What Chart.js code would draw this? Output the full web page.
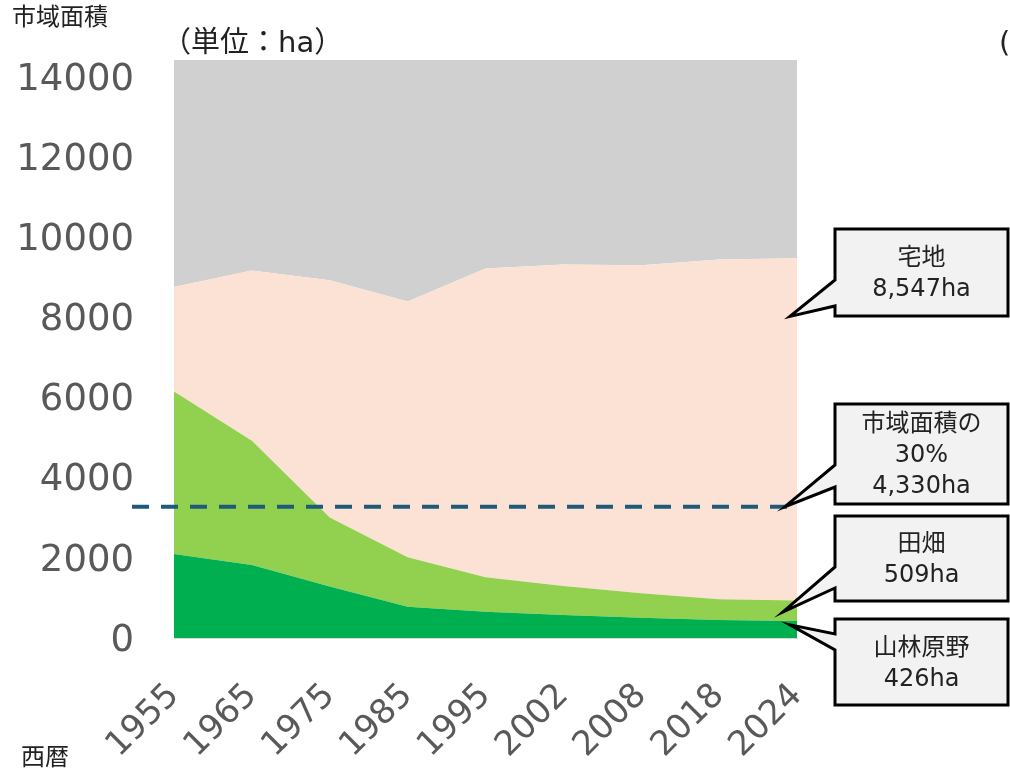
<!DOCTYPE html>
<html lang="ja">
<head>
<meta charset="utf-8">
<script src="https://cdn.jsdelivr.net/npm/chart.js@4"></script>
<style>
html, body { margin: 0; padding: 0; background: #fff; }
#wrap { width: 1010px; height: 774px; position: relative; }
</style>
</head>
<body>
<div id="wrap"><canvas id="chart-area"></canvas></div>
<script>
// データ（単位：ha）
const years = ['1955', '1965', '1975', '1985', '1995', '2002', '2008', '2018', '2024'];
const sanrin = [2100, 1825, 1283, 783, 658, 575, 508, 450, 426];      // 山林原野
const tahata = [4058, 3100, 1725, 1234, 859, 725, 609, 517, 509];     // 田畑
const takuchi = [2609, 4250, 5925, 6383, 7708, 8025, 8191, 8483, 8547]; // 宅地
const sonota = [5666, 5258, 5500, 6033, 5208, 5108, 5125, 4983, 4951]; // その他
const yTicks = [0, 2000, 4000, 6000, 8000, 10000, 12000, 14000];
const yMax = 14433;
const lineValue = 3280; // 破線の位置（図の上での位置）

const labelFont = '"DejaVu Sans", "Noto Sans CJK JP", sans-serif';

// 吹き出し
const callouts = [
    { lines: ['宅地', '8,547ha'], top: 229, bottom: 316, baseA: 280, baseB: 306, tipX: 790, tipValue: 8030 },
    { lines: ['市域面積の', '30%', '4,330ha'], top: 404, bottom: 504, baseA: 465, baseB: 487, tipX: 785, tipValue: lineValue },
    { lines: ['田畑', '509ha'], top: 516, bottom: 601, baseA: 567, baseB: 588, tipX: 783, tipValue: 650 },
    { lines: ['山林原野', '426ha'], top: 619, bottom: 705, baseA: 634, baseB: 650, tipX: 790, tipValue: 330 }
];

const extras = {
    id: 'extras',
    afterDatasetsDraw(chart) {
        const ctx = chart.ctx;
        const y = chart.scales.y;
        const area = chart.chartArea;

        // 30%ライン
        ctx.save();
        ctx.strokeStyle = '#1d5b79';
        ctx.lineWidth = 4;
        ctx.setLineDash([17, 12]);
        ctx.beginPath();
        ctx.moveTo(132, y.getPixelForValue(lineValue));
        ctx.lineTo(area.right, y.getPixelForValue(lineValue));
        ctx.stroke();
        ctx.restore();

        // 吹き出し
        const L = 835, R = 1008;
        callouts.forEach(c => {
            const tipY = y.getPixelForValue(c.tipValue);
            ctx.save();
            ctx.beginPath();
            ctx.moveTo(L, c.top);
            ctx.lineTo(R, c.top);
            ctx.lineTo(R, c.bottom);
            ctx.lineTo(L, c.bottom);
            ctx.lineTo(L, c.baseB);
            ctx.lineTo(c.tipX, tipY);
            ctx.lineTo(L, c.baseA);
            ctx.closePath();
            ctx.fillStyle = '#f2f2f2';
            ctx.fill();
            ctx.lineWidth = 3;
            ctx.lineJoin = 'miter';
            ctx.strokeStyle = '#000';
            ctx.stroke();

            ctx.fillStyle = '#222';
            ctx.font = '24px ' + labelFont;
            ctx.textAlign = 'center';
            ctx.textBaseline = 'middle';
            const mid = (c.top + c.bottom) / 2 + 2;
            const lh = 31;
            c.lines.forEach((t, i) => {
                ctx.fillText(t, (L + R) / 2, mid + (i - (c.lines.length - 1) / 2) * lh);
            });
            ctx.restore();
        });

        // 文字
        ctx.save();
        ctx.fillStyle = '#222';
        ctx.textBaseline = 'middle';
        ctx.textAlign = 'left';
        ctx.font = '24px ' + labelFont;
        ctx.fillText('市域面積', 12, 19);
        ctx.fillText('西暦', 21, 759);
        ctx.font = '29px ' + labelFont;
        ctx.fillText('（単位：ha）', 162, 44);
        ctx.fillText('(', 999, 44);
        ctx.restore();
    }
};

function createChart(id) {
    const ctx = document.getElementById(id);

    const config = {
        type: 'line',
        data: {
            labels: years,
            datasets: [
                { label: '山林原野', data: sanrin, backgroundColor: '#00b050', fill: 'origin' },
                { label: '田畑', data: tahata, backgroundColor: '#92d050', fill: '-1' },
                { label: '宅地', data: takuchi, backgroundColor: '#fbe2d5', fill: '-1' },
                { label: 'その他', data: sonota, backgroundColor: '#d0d0d0', fill: '-1' }
            ]
        },
        options: {
            responsive: false,
            animation: false,
            elements: {
                point: { radius: 0 },
                line: { borderWidth: 0, tension: 0 }
            },
            layout: { padding: { top: 60, right: 213, left: 0, bottom: 0 } },
            plugins: {
                legend: { display: false },
                tooltip: { enabled: false }
            },
            scales: {
                x: {
                    offset: false,
                    grid: { display: false, drawTicks: false },
                    border: { display: true, color: '#d9d9d9', width: 1 },
                    ticks: {
                        color: '#595959',
                        font: { size: 34, family: labelFont },
                        minRotation: 45,
                        maxRotation: 45,
                        padding: 38
                    },
                    afterFit(scale) {
                        scale.height = 136;
                        scale.paddingLeft = 0;
                        scale.paddingRight = 0;
                    }
                },
                y: {
                    stacked: true,
                    min: 0,
                    max: yMax,
                    grid: { display: false, drawTicks: false },
                    border: { display: false },
                    afterBuildTicks(scale) {
                        scale.ticks = yTicks.map(v => ({ value: v }));
                    },
                    ticks: {
                        color: '#595959',
                        font: { size: 37, family: labelFont },
                        padding: 40,
                        labelOffset: 3,
                        callback: v => String(v)
                    },
                    afterFit(scale) {
                        scale.width = 174;
                        scale.paddingTop = 0;
                        scale.paddingBottom = 0;
                    }
                }
            }
        },
        plugins: [extras]
    };

    new Chart(ctx, config);
}

const cv = document.getElementById('chart-area');
cv.width = 1010;
cv.height = 774;
createChart('chart-area');
</script>
</body>
</html>
